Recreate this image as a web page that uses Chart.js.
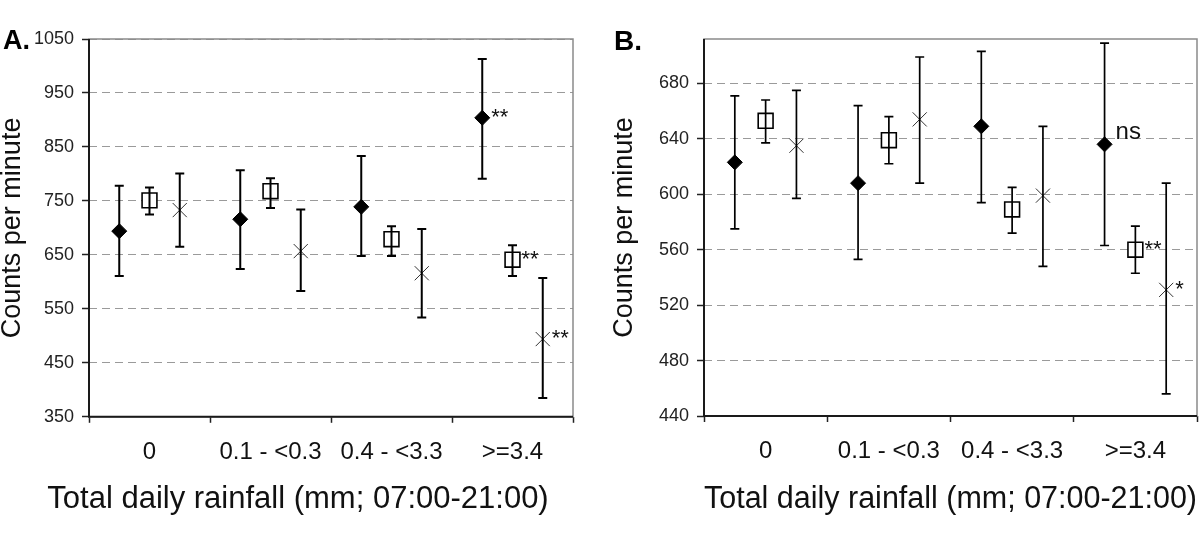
<!DOCTYPE html>
<html>
<head>
<meta charset="utf-8">
<script src="https://cdn.jsdelivr.net/npm/chart.js@4.4.1/dist/chart.umd.min.js"></script>
<style>
html,body{margin:0;padding:0;background:#fff;}
#wrap{position:relative;width:1200px;height:554px;overflow:hidden;background:#fff;}
canvas{position:absolute;top:0;}
</style>
</head>
<body>
<div id="wrap">
<canvas id="cA" width="600" height="554" style="left:0px"></canvas>
<canvas id="cB" width="600" height="554" style="left:600px"></canvas>
</div>
<script>
// ---------- data ----------
const categories = ['0', '0.1 - <0.3', '0.4 - <3.3', '>=3.4'];
const yTitle = 'Counts per minute';
const xTitle = 'Total daily rainfall (mm; 07:00-21:00)';

// Panel A
const aYTicks = [350, 450, 550, 650, 750, 850, 950, 1050];
const aDiamond     = [694, 716, 739, 904];
const aDiamondLow  = [611, 624, 648, 791];
const aDiamondHigh = [778, 807, 833, 1013];
const aSquare      = [751, 768, 679, 641];
const aSquareLow   = [725, 737, 648, 611];
const aSquareHigh  = [775, 792, 703, 668];
const aCross       = [733, 657, 616, 494];
const aCrossLow    = [665, 583, 534, 385];
const aCrossHigh   = [801, 734, 698, 607];
const aDiamondMark = ['', '', '', '**'];
const aSquareMark  = ['', '', '', '**'];
const aCrossMark   = ['', '', '', '**'];

// Panel B
const bYTicks = [440, 480, 520, 560, 600, 640, 680];
const bYMax = 712;
const bDiamond     = [623, 608, 649, 636];
const bDiamondLow  = [575, 553, 594, 563];
const bDiamondHigh = [671, 664, 703, 709];
const bSquare      = [653, 639, 589, 560];
const bSquareLow   = [637, 622, 572, 543];
const bSquareHigh  = [668, 656, 605, 577];
const bCross       = [635, 654, 599, 531];
const bCrossLow    = [597, 608, 548, 456];
const bCrossHigh   = [675, 699, 649, 608];
const bDiamondMark = ['', '', '', 'ns'];
const bSquareMark  = ['', '', '', '**'];
const bCrossMark   = ['', '', '', '*'];

// ---------- styling ----------
const FONT = '"Liberation Sans", Arial, Helvetica, sans-serif';
const TXT = '#111';

function pts(vals, off) { return vals.map((v, i) => ({ x: i + off, y: v })); }

function makeDatasets(d, dl, dh, dm, s, sl, sh, sm, c, cl, ch, cm) {
  return [
    { label: 'diamond', data: pts(d, -0.25), errLow: dl, errHigh: dh, marks: dm,
      xAxisID: 'xd', yAxisID: 'y', pointStyle: 'rectRot', pointRadius: 7.5, pointHoverRadius: 7.5,
      backgroundColor: '#000', borderColor: '#000', borderWidth: 1 },
    { label: 'square', data: pts(s, 0), errLow: sl, errHigh: sh, marks: sm,
      xAxisID: 'xd', yAxisID: 'y', pointStyle: 'rect', pointRadius: 10.5, pointHoverRadius: 10.5,
      backgroundColor: '#fff', borderColor: '#000', borderWidth: 1.6 },
    { label: 'cross', data: pts(c, 0.25), errLow: cl, errHigh: ch, marks: cm,
      xAxisID: 'xd', yAxisID: 'y', pointStyle: 'crossRot', pointRadius: 10, pointHoverRadius: 10,
      backgroundColor: '#333', borderColor: '#333', borderWidth: 1 }
  ];
}

const framePlugin = {
  id: 'frame',
  beforeDatasetsDraw(chart) {
    const { ctx, chartArea: a } = chart;
    ctx.save();
    ctx.setLineDash([]);
    ctx.strokeStyle = '#8a8a8a';
    ctx.lineWidth = 1.5;
    ctx.strokeRect(a.left, a.top, a.right - a.left, a.bottom - a.top);
    ctx.strokeStyle = '#1a1a1a';
    ctx.lineWidth = 2;
    ctx.beginPath();
    ctx.moveTo(a.left, a.top);
    ctx.lineTo(a.left, a.bottom);
    ctx.lineTo(a.right, a.bottom);
    ctx.stroke();
    ctx.restore();
  }
};

const errorPlugin = {
  id: 'errbars',
  afterDatasetsDraw(chart, args, opts) {
    const { ctx } = chart;
    const ys = chart.scales.y;
    const cap = 4.5;
    chart.data.datasets.forEach((ds, di) => {
      const meta = chart.getDatasetMeta(di);
      ctx.save();
      ctx.setLineDash([]);
      ctx.strokeStyle = '#000';
      ctx.lineWidth = opts.width || 2;
      meta.data.forEach((pt, i) => {
        const x = pt.x;
        const yl = ys.getPixelForValue(ds.errLow[i]);
        const yh = ys.getPixelForValue(ds.errHigh[i]);
        ctx.beginPath();
        ctx.moveTo(x, yl); ctx.lineTo(x, yh);
        ctx.moveTo(x - cap, yl); ctx.lineTo(x + cap, yl);
        ctx.moveTo(x - cap, yh); ctx.lineTo(x + cap, yh);
        ctx.stroke();
        const m = ds.marks[i];
        if (m) {
          ctx.fillStyle = TXT;
          ctx.textAlign = 'left';
          ctx.textBaseline = 'alphabetic';
          if (/[a-z]/.test(m)) {
            ctx.font = '24px ' + FONT;
            ctx.fillText(m, x + 11, pt.y - 5);
          } else {
            ctx.font = '22px ' + FONT;
            ctx.fillText(m, x + 9, pt.y + 6);
          }
        }
      });
      ctx.restore();
    });
  }
};

const panelLabelPlugin = {
  id: 'panelLabel',
  afterDraw(chart, args, opts) {
    const { ctx } = chart;
    ctx.save();
    ctx.fillStyle = '#000';
    ctx.font = 'bold ' + opts.size + 'px ' + FONT;
    ctx.textAlign = 'left';
    ctx.textBaseline = 'alphabetic';
    ctx.fillText(opts.text, opts.x, opts.y);
    ctx.restore();
  }
};

function yScale(ticks, max, width, titlePad) {
  return {
    type: 'linear', position: 'left',
    min: ticks[0], max: max,
    afterFit(s) { s.width = width; s.paddingTop = 0; s.paddingBottom = 0; },
    ticks: { stepSize: ticks[1] - ticks[0], includeBounds: false, padding: 8,
             color: '#222', font: { family: FONT, size: 18 },
             callback: (v) => String(v) },
    grid: { color: '#9a9a9a', lineWidth: 1, drawTicks: true, tickLength: 7,
            tickColor: '#222', tickWidth: 1.5, tickBorderDash: [] },
    border: { display: false, dash: [8, 5] },
    title: { display: true, text: yTitle, color: TXT,
             font: { family: FONT, size: 27, lineHeight: 0.9 },
             padding: { top: titlePad, bottom: 0 } }
  };
}

function xCatScale(height, withTitle) {
  const s = {
    type: 'category', position: 'bottom', labels: categories, offset: true,
    afterFit(sc) { sc.height = height; sc.paddingLeft = 0; sc.paddingRight = 0; },
    grid: { offset: true, drawOnChartArea: false, drawTicks: true, tickLength: 6,
            tickColor: '#222', tickWidth: 1.5 },
    border: { display: false },
    ticks: { padding: 15, color: TXT, maxRotation: 0, autoSkip: false,
             font: { family: FONT, size: 24 } }
  };
  if (withTitle) {
    s.title = { display: true, text: xTitle, color: TXT,
                font: { family: FONT, size: 31, lineHeight: 1.2 },
                padding: { top: 0, bottom: 36 } };
  }
  return s;
}

const common = {
  responsive: false, animation: false, devicePixelRatio: 1,
  events: []
};

// Panel A
new Chart(document.getElementById('cA'), {
  type: 'scatter',
  data: { datasets: makeDatasets(aDiamond, aDiamondLow, aDiamondHigh, aDiamondMark,
                                 aSquare, aSquareLow, aSquareHigh, aSquareMark,
                                 aCross, aCrossLow, aCrossHigh, aCrossMark) },
  options: Object.assign({}, common, {
    layout: { autoPadding: false, padding: { left: 0, right: 4, top: 39, bottom: 0 } },
    scales: {
      x: xCatScale(64, false),
      xd: { type: 'linear', display: false, min: -0.5, max: 3.5 },
      y: yScale(aYTicks, aYTicks[aYTicks.length - 1], 89, 0),
      yr: { type: 'linear', position: 'right', display: true,
            afterFit(s) { s.width = 23; },
            grid: { display: false, drawTicks: false }, ticks: { display: false },
            border: { display: false } }
    },
    plugins: {
      legend: { display: false }, tooltip: { enabled: false },
      title: { display: true, position: 'bottom', align: 'center', text: xTitle, color: TXT,
               font: { family: FONT, size: 31, lineHeight: 1.2, weight: 'normal' },
               padding: { top: 0, bottom: 36 } },
      errbars: { width: 2 },
      panelLabel: { text: 'A.', x: 3, y: 49, size: 27 }
    }
  }),
  plugins: [framePlugin, errorPlugin, panelLabelPlugin]
});

// Panel B
new Chart(document.getElementById('cB'), {
  type: 'scatter',
  data: { datasets: makeDatasets(bDiamond, bDiamondLow, bDiamondHigh, bDiamondMark,
                                 bSquare, bSquareLow, bSquareHigh, bSquareMark,
                                 bCross, bCrossLow, bCrossHigh, bCrossMark) },
  options: Object.assign({}, common, {
    layout: { autoPadding: false, padding: { left: 0, right: 3, top: 39, bottom: 0 } },
    scales: {
      x: xCatScale(138, true),
      xd: { type: 'linear', display: false, min: -0.5, max: 3.5 },
      y: yScale(bYTicks, bYMax, 104, 12)
    },
    plugins: {
      legend: { display: false }, tooltip: { enabled: false },
      errbars: { width: 1.7 },
      panelLabel: { text: 'B.', x: 14, y: 50, size: 28 }
    }
  }),
  plugins: [framePlugin, errorPlugin, panelLabelPlugin]
});
</script>
</body>
</html>
